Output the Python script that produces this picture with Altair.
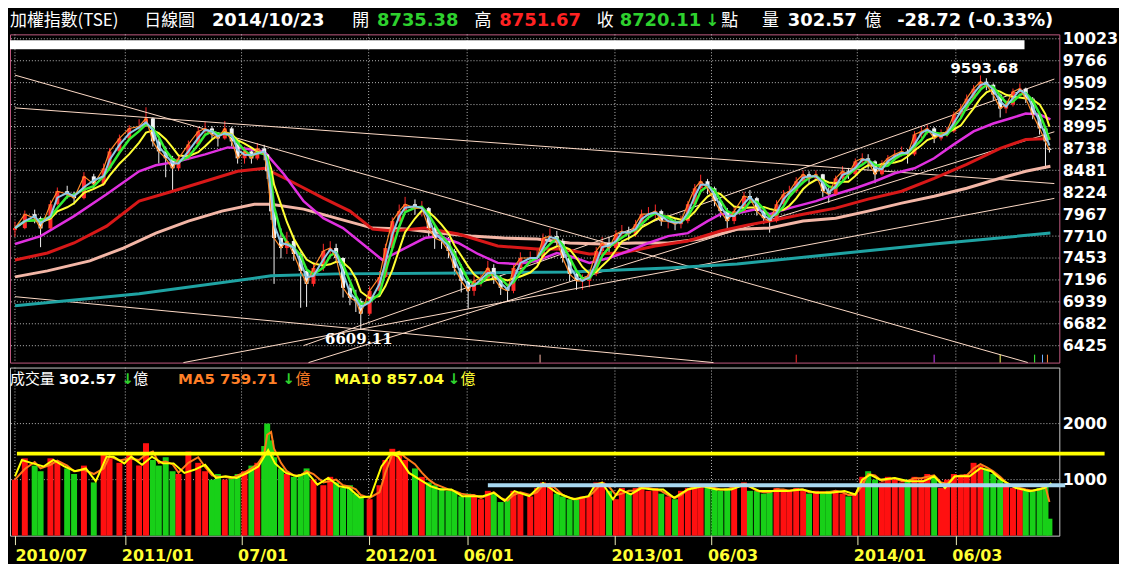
import altair as alt
import pandas as pd

# ---------------- data ----------------
tick_days = [0, 112, 230, 359, 459, 609, 707, 855, 955]
tick_labels = ["2010/07", "2011/01", "07/01", "2012/01", "06/01", "2013/01", "06/03", "2014/01", "06/03"]
price_ticks = [6425, 6682, 6939, 7196, 7453, 7710, 7967, 8224, 8481, 8738, 8995, 9252, 9509, 9766, 10023]
vol_ticks = [1000, 2000]

days = [0, 10, 20, 26, 36, 43, 53, 60, 70, 80,
        90, 96, 106, 116, 126, 133, 140, 146, 153, 160,
        166, 176, 186, 193, 200, 206, 213, 220, 226, 233,
        240, 246, 253, 256, 260, 263, 270, 276, 283, 290,
        296, 303, 313, 320, 326, 333, 340, 346, 351, 360,
        370, 376, 383, 390, 396, 406, 413, 420, 426, 433,
        440, 446, 453, 460, 466, 473, 480, 486, 493, 500,
        506, 513, 523, 530, 536, 543, 550, 556, 563, 570,
        576, 583, 590, 596, 603, 610, 616, 623, 630, 636,
        643, 650, 656, 663, 670, 676, 683, 690, 696, 703,
        710, 716, 723, 730, 740, 746, 753, 760, 766, 773,
        780, 786, 793, 800, 806, 813, 820, 826, 833, 840,
        846, 853, 860, 866, 873, 880, 886, 893, 900, 906,
        913, 920, 926, 933, 940, 946, 953, 960, 966, 973,
        980, 986, 993, 1000, 1006, 1013, 1020, 1026, 1033, 1040,
        1046, 1050]
close = [7804, 7967, 7920, 7800, 8084, 8236, 8200, 8155, 8410, 8318,
         8505, 8703, 8855, 8972, 8995, 9090, 8820, 8703, 8622, 8505,
         8620, 8785, 8937, 8972, 8902, 8855, 8972, 8820, 8622, 8703,
         8620, 8738, 8668, 8470, 8000, 7687, 7570, 7652, 7500, 7302,
         7150, 7337, 7535, 7570, 7453, 7103, 6986, 6950, 6800, 7068,
         7230, 7570, 7886, 8003, 8084, 8038, 8038, 7804, 7687, 7652,
         7535, 7337, 7185, 7068, 7185, 7220, 7337, 7220, 7103, 7068,
         7337, 7453, 7453, 7453, 7687, 7710, 7652, 7453, 7267, 7185,
         7185, 7267, 7535, 7629, 7570, 7734, 7769, 7734, 7850, 7967,
         7967, 8003, 7886, 7886, 7850, 7886, 8084, 8271, 8353, 8271,
         8120, 8003, 7886, 8003, 8180, 8155, 8003, 7920, 7886, 8084,
         8200, 8236, 8353, 8435, 8388, 8435, 8236, 8200, 8388, 8470,
         8435, 8586, 8622, 8586, 8435, 8551, 8622, 8668, 8703, 8668,
         8902, 8937, 8972, 8855, 8902, 8937, 9135, 9205, 9322, 9439,
         9520, 9485, 9369, 9205, 9252, 9404, 9439, 9322, 9135, 8972,
         8820, 8720.11]
high = [7880, 8010, 8020, 7940, 8130, 8280, 8300, 8230, 8460, 8440,
        8560, 8740, 8900, 9010, 9080, 9220, 9100, 8850, 8760, 8650,
        8670, 8830, 8990, 9050, 9000, 8930, 9060, 8990, 8830, 8760,
        8740, 8800, 8780, 8680, 8480, 8020, 7800, 7760, 7720, 7520,
        7350, 7400, 7620, 7650, 7620, 7460, 7150, 7080, 6980, 7120,
        7300, 7620, 7930, 8080, 8170, 8140, 8120, 8050, 7830, 7760,
        7700, 7560, 7380, 7220, 7250, 7300, 7420, 7380, 7250, 7150,
        7380, 7520, 7530, 7560, 7740, 7800, 7770, 7680, 7480, 7300,
        7260, 7320, 7580, 7700, 7700, 7780, 7840, 7820, 7900, 8020,
        8050, 8080, 8020, 7950, 7920, 7950, 8120, 8320, 8430, 8380,
        8290, 8150, 8040, 8060, 8230, 8250, 8170, 8050, 7980, 8130,
        8250, 8300, 8400, 8480, 8470, 8480, 8440, 8280, 8420, 8530,
        8510, 8620, 8680, 8670, 8600, 8600, 8660, 8720, 8760, 8730,
        8940, 8990, 9020, 8990, 8960, 8990, 9170, 9260, 9370, 9480,
        9594, 9560, 9500, 9380, 9300, 9440, 9500, 9450, 9340, 9150,
        8990, 8751.67]
low = [7700, 7790, 7860, 7580, 7790, 8070, 8150, 8080, 8140, 8270,
       8300, 8490, 8690, 8840, 8930, 8990, 8760, 8560, 8400, 8250,
       8480, 8600, 8770, 8900, 8850, 8760, 8840, 8760, 8560, 8560,
       8560, 8600, 8600, 8380, 7900, 7150, 7450, 7500, 7420, 6870,
       6880, 7120, 7300, 7480, 7400, 6990, 6900, 6820, 6609, 6780,
       7040, 7220, 7560, 7870, 7980, 7960, 7940, 7700, 7560, 7560,
       7450, 7250, 7050, 6860, 7010, 7120, 7200, 7150, 7020, 6945,
       7040, 7300, 7380, 7380, 7430, 7640, 7600, 7400, 7180, 7080,
       7080, 7110, 7240, 7500, 7520, 7550, 7700, 7660, 7700, 7830,
       7900, 7920, 7830, 7800, 7780, 7800, 7860, 8060, 8240, 8200,
       8060, 7930, 7780, 7850, 7980, 8100, 7950, 7850, 7750, 7870,
       8060, 8150, 8220, 8330, 8320, 8360, 8170, 8100, 8180, 8370,
       8380, 8420, 8560, 8500, 8330, 8420, 8530, 8590, 8640, 8560,
       8650, 8860, 8900, 8800, 8830, 8870, 8920, 9100, 9190, 9300,
       9420, 9420, 9300, 9100, 9150, 9230, 9380, 9270, 9080, 8900,
       8500, 8690]
vol = [1000, 1380, 1250, 1150, 1380, 1300, 1200, 1100, 1250, 950,
       1450, 1380, 1300, 1450, 1250, 1650, 1350, 1250, 1400, 1150,
       1100, 1500, 1300, 1150, 1000, 1100, 1000, 1050, 1100, 1150,
       1250, 1300, 1600, 2000, 1700, 1400, 1200, 1100, 1050, 1100,
       1200, 1000, 900, 1050, 950, 850, 900, 750, 700, 650,
       900, 1350, 1550, 1450, 1350, 1200, 1050, 950, 900, 850,
       800, 800, 700, 750, 700, 650, 800, 750, 600, 650,
       800, 750, 700, 850, 950, 900, 750, 700, 650, 650,
       700, 700, 950, 950, 800, 650, 850, 750, 850, 900,
       800, 850, 750, 700, 650, 800, 850, 900, 900, 850,
       850, 800, 850, 900, 950, 800, 800, 750, 800, 850,
       800, 800, 850, 800, 750, 800, 750, 800, 800, 750,
       700, 750, 1050, 1150, 1000, 950, 1050, 1000, 950, 1000,
       1050, 1000, 1100, 1050, 850, 1000, 1100, 1050, 1100, 1300,
       1250, 1200, 1100, 1000, 900, 850, 850, 800, 800, 850,
       900, 302.57]
first_open = 7780
last_open = 8735.38

# moving averages
mag_d = [0, 26, 60, 93, 126, 143, 166, 193, 216, 233, 253, 273, 293, 313, 333, 353, 373, 396, 416, 430,
         450, 470, 490, 510, 530, 550, 563, 583, 603, 623, 643, 663, 683, 703, 716, 733, 753, 766, 786, 813,
         833, 853, 873, 893, 913, 933, 953, 973, 993, 1010, 1026, 1040, 1051]
mag_v = [7617, 7710, 7944, 8200, 8470, 8540, 8586, 8668, 8750, 8738, 8703, 8435, 8120, 7920, 7804, 7617, 7430, 7570, 7687, 7710,
         7629, 7500, 7396, 7384, 7420, 7512, 7477, 7396, 7453, 7535, 7629, 7710, 7745, 7886, 7967, 7979, 8026, 7967, 8038, 8120,
         8200, 8271, 8353, 8447, 8505, 8622, 8785, 8937, 9030, 9088, 9147, 9135, 9077]
red_d = [0, 33, 60, 93, 126, 160, 193, 226, 253, 280, 313, 340, 363, 383, 416, 450, 490, 530, 556, 583,
         616, 650, 683, 716, 743, 766, 800, 833, 866, 900, 933, 966, 1000, 1026, 1051]
red_v = [7430, 7512, 7629, 7827, 8120, 8236, 8353, 8470, 8505, 8353, 8155, 8003, 7792, 7769, 7804, 7734, 7594, 7558, 7558, 7500,
         7512, 7594, 7652, 7769, 7839, 7886, 7967, 8038, 8143, 8236, 8388, 8551, 8738, 8843, 8855]
pink_d = [0, 33, 76, 110, 143, 176, 210, 243, 260, 293, 326, 363, 396, 430, 463, 496, 530, 563, 596, 630,
          663, 696, 733, 766, 800, 833, 866, 900, 933, 966, 1000, 1026, 1051]
pink_v = [7232, 7302, 7420, 7570, 7745, 7886, 8003, 8084, 8084, 8026, 7920, 7804, 7792, 7745, 7710, 7687, 7675, 7629, 7617, 7629,
          7629, 7675, 7790, 7804, 7886, 7920, 8003, 8096, 8178, 8271, 8388, 8470, 8528]
teal_d = [0, 126, 260, 326, 463, 563, 663, 733, 833, 933, 1051]
teal_v = [6893, 7033, 7244, 7267, 7278, 7290, 7337, 7384, 7500, 7617, 7745]

vma_d = [0, 7, 18, 29, 39, 50, 61, 72, 82, 93, 100, 111, 118, 129, 139, 150, 161, 172, 182, 193,
         204, 214, 225, 236, 247, 257, 264, 275, 286, 297, 307, 318, 329, 339, 350, 361, 372, 382, 389, 400,
         411, 422, 432, 443, 454, 464, 475, 486, 497, 507, 522, 536, 550, 567, 582, 589, 596, 607, 614, 625,
         636, 647, 658, 669, 683, 698, 712, 727, 741, 756, 770, 784, 799, 813, 828, 842, 853, 860, 868, 878,
         893, 907, 922, 933, 944, 954, 969, 980, 991, 1001, 1016, 1030, 1045, 1052]
vma_v = [1060, 1350, 1290, 1235, 1350, 1235, 1150, 1200, 970, 1410, 1410, 1290, 1410, 1265, 1410, 1290, 1290, 1120, 1175, 1265,
         1030, 1060, 1030, 1120, 1235, 1530, 1290, 1120, 1060, 1120, 910, 1030, 880, 850, 680, 700, 1235, 1470, 1410, 1120,
         1000, 880, 825, 825, 705, 705, 705, 765, 620, 795, 705, 940, 765, 650, 705, 910, 940, 650, 825, 735,
         850, 825, 825, 675, 825, 880, 825, 825, 910, 795, 795, 795, 825, 765, 765, 795, 735, 1000, 1090, 1000,
         1030, 970, 970, 1060, 850, 1060, 1060, 1205, 1150, 1000, 850, 795, 850, 940]

# drawn trend lines (start day, start value, end day, end value)
tl_d1 = [0, 0, 0, 171, 293, 298]
tl_v1 = [9597, 9213, 7000, 6227, 6426, 6227]
tl_d2 = [1028, 1055, 709, 1055, 1055, 1055]
tl_v2 = [6228, 8326, 6227, 8152, 9551, 8933]

# horizontal reference lines on volume panel
ref_d1 = [2, 480]
ref_d2 = [1106, 1066]
ref_v = [1464, 900]
ref_c = ["#ffff00", "#a8d8f0"]

# event markers at bottom of price panel
mk_d = [533, 793, 933, 1000, 1035, 1043, 1048]
mk_lo = [6227] * 7
mk_hi = [6320] * 7
mk_c = ["#ffb8a8", "#ff3030", "#d040ff", "#ffff60", "#40ff40", "#70b0ff", "#ff9040"]

lab_d = [984, 349]
lab_v = [9680, 6508]
lab_t = ["9593.68", "6609.11"]
lab_f = ["sans", "serif"]

# ---------------- frames ----------------
opens = [first_open] + close[:-1]
opens[-1] = last_open
df = pd.DataFrame({"day": days, "open": opens, "close": close, "high": high, "low": low, "vol": vol})
df["up"] = df["close"] >= df["open"]

mag = pd.DataFrame({"day": mag_d, "v": mag_v})
red = pd.DataFrame({"day": red_d, "v": red_v})
pink = pd.DataFrame({"day": pink_d, "v": pink_v})
teal = pd.DataFrame({"day": teal_d, "v": teal_v})
vma = pd.DataFrame({"day": vma_d, "v": vma_v})
tl = pd.DataFrame({"d1": tl_d1, "v1": tl_v1, "d2": tl_d2, "v2": tl_v2})
refs = pd.DataFrame({"d1": ref_d1, "d2": ref_d2, "v": ref_v, "c": ref_c})
mk = pd.DataFrame({"d": mk_d, "lo": mk_lo, "hi": mk_hi, "c": mk_c})
labs = pd.DataFrame({"d": lab_d, "v": lab_v, "t": lab_t, "f": lab_f})
xgrid = pd.DataFrame({"d": tick_days})
ygrid = pd.DataFrame({"v": price_ticks})
vgrid = pd.DataFrame({"v": vol_ticks})
one = pd.DataFrame({"a": [0]})

xs = alt.Scale(domain=[0, 1055], nice=False, zero=False)
ys = alt.Scale(domain=[6227, 10075], nice=False, zero=False)
vs = alt.Scale(domain=[0, 3000], nice=False)

GRID = "#b8b8b8"
NUMFONT = "DejaVu Sans"
CJK = "Noto Sans CJK TC"
UP, DOWN = "#ff2a2a", "#f2f2f2"
updown = alt.condition("datum.up", alt.value(UP), alt.value(DOWN))

label_expr = " : ".join(
    f"datum.value == {d} ? '{t}'" for d, t in zip(tick_days, tick_labels)
) + " : ''"

x_axis_price = alt.Axis(values=tick_days, grid=False, labels=False, ticks=False, domain=False, title=None)
y_axis_price = alt.Axis(orient="right", values=price_ticks, format="d", grid=False,
                        labelColor="white", labelFont=NUMFONT, labelFontWeight="bold",
                        labelFontSize=16, labelPadding=3, ticks=False, domain=False, title=None,
                        labelOverlap=False)
x_axis_vol = alt.Axis(values=tick_days, labelExpr=label_expr, labelAlign="left",
                      labelOffset={"condition": {"test": "datum.value == 0", "value": 0}, "value": -4},
                      labelColor="#ffff33", labelFont=NUMFONT, labelFontSize=16, labelFontWeight="bold",
                      labelPadding=3, tickSize=9, tickColor="#eeeebb", domain=False,
                      grid=False, title=None, labelFlush=False, labelOverlap=False, labelBaseline="top")
y_axis_vol = alt.Axis(orient="right", values=vol_ticks, format="d", grid=False,
                      labelColor="white", labelFont=NUMFONT, labelFontWeight="bold",
                      labelFontSize=16, labelPadding=3, ticks=False, domain=False, title=None)


def PX(f):
    return alt.X(f, scale=xs, axis=x_axis_price)


def PY(f):
    return alt.Y(f, scale=ys, axis=y_axis_price)


def VX(f):
    return alt.X(f, scale=xs, axis=x_axis_vol)


def VY(f):
    return alt.Y(f, scale=vs, axis=y_axis_vol)


def txt(s, x, y, color, size, bold=True, font=NUMFONT):
    return alt.Chart(one).mark_text(
        text=s, align="left", baseline="middle", color=color, fontSize=size,
        fontWeight="bold" if bold else "normal", font=font
    ).encode(x=alt.value(x), y=alt.value(y))


# ---------------- price panel ----------------
p_xgrid = alt.Chart(xgrid).mark_rule(color=GRID, strokeWidth=1, strokeDash=[1, 2]).encode(x=PX("d:Q"))
p_ygrid = alt.Chart(ygrid).mark_rule(color=GRID, strokeWidth=1, strokeDash=[1, 2]).encode(y=PY("v:Q"))

wicks = alt.Chart(df).mark_rule(strokeWidth=1).encode(x=PX("day:Q"), y=PY("low:Q"), y2="high", color=updown)
bodies = alt.Chart(df).mark_bar(size=4).encode(x=PX("day:Q"), y=PY("open:Q"), y2="close", color=updown)

trend = alt.Chart(tl).mark_rule(color="#ffdcc8", strokeWidth=1).encode(
    x=PX("d1:Q"), y=PY("v1:Q"), x2="d2", y2="v2")


def ma_line(data, color, w):
    return alt.Chart(data).mark_line(color=color, strokeWidth=w).encode(x=PX("day:Q"), y=PY("v:Q"))


srt = [alt.SortField("day")]
short = alt.Chart(df).transform_window(
    blue="mean(close)", frame=[-1, 0], sort=srt
).transform_window(
    green="mean(close)", frame=[-2, 0], sort=srt
).transform_window(
    yellow="mean(close)", frame=[-4, 0], sort=srt
)
yellow_l = short.mark_line(color="#ffff33", strokeWidth=2).encode(x=PX("day:Q"), y=PY("yellow:Q"))
green_l = short.mark_line(color="#33ee33", strokeWidth=2.5).encode(x=PX("day:Q"), y=PY("green:Q"))
orange_l = short.mark_line(color="#ff8a2a", strokeWidth=1.2).encode(x=PX("day:Q"), y=PY("close:Q"))
blue_l = short.mark_line(color="#90c8e8", strokeWidth=2).encode(x=PX("day:Q"), y=PY("blue:Q"))

markers = alt.Chart(mk).mark_rule(strokeWidth=1).encode(
    x=PX("d:Q"), y=PY("lo:Q"), y2="hi", color=alt.Color("c:N", scale=None))

lab_sans = alt.Chart(labs).transform_filter("datum.f == 'sans'").mark_text(
    color="white", fontSize=15, fontWeight="bold", font="DejaVu Sans", align="center", baseline="middle"
).encode(x=PX("d:Q"), y=PY("v:Q"), text="t:N")
lab_serif = alt.Chart(labs).transform_filter("datum.f == 'serif'").mark_text(
    color="white", fontSize=15, fontWeight="bold", font="DejaVu Serif", align="center", baseline="middle"
).encode(x=PX("d:Q"), y=PY("v:Q"), text="t:N")

white_bar = alt.Chart(one).mark_rect(color="white").encode(
    x=alt.value(0), x2=alt.value(1020), y=alt.value(6), y2=alt.value(15))

HY = -13
header = [
    txt("加權指數(TSE)", 0, HY, "white", 17, bold=False, font=CJK),
    txt("日線圖", 135, HY, "white", 17, bold=False, font=CJK),
    txt("2014/10/23", 203, HY, "white", 18),
    txt("開", 344, HY, "white", 17, bold=False, font=CJK),
    txt("8735.38", 369, HY, "#2ed12e", 18),
    txt("高", 467, HY, "white", 17, bold=False, font=CJK),
    txt("8751.67", 492, HY, "#ff2222", 18),
    txt("收", 590, HY, "white", 17, bold=False, font=CJK),
    txt("8720.11", 613, HY, "#2ed12e", 18),
    txt("↓", 699, HY, "#2ed12e", 17),
    txt("點", 715, HY, "white", 17, bold=False, font=CJK),
    txt("量", 756, HY, "white", 17, bold=False, font=CJK),
    txt("302.57", 782, HY, "white", 18),
    txt("億", 859, HY, "white", 17, bold=False, font=CJK),
    txt("-28.72 (-0.33%)", 892, HY, "white", 18),
]

price = alt.layer(
    p_xgrid, p_ygrid, wicks, trend,
    ma_line(teal, "#1fa3a3", 3), ma_line(pink, "#f3b6a6", 3), ma_line(red, "#d81818", 3),
    ma_line(mag, "#e030e0", 2.5),
    bodies, yellow_l, green_l, orange_l, blue_l,
    markers, lab_sans, lab_serif, white_bar, *header
).properties(width=1055, height=330, view=alt.ViewBackground(stroke="#c05a80", strokeWidth=1))

# ---------------- volume panel ----------------
v_xgrid = alt.Chart(xgrid).mark_rule(color=GRID, strokeWidth=1, strokeDash=[1, 2]).encode(x=VX("d:Q"))
v_ygrid = alt.Chart(vgrid).mark_rule(color=GRID, strokeWidth=1, strokeDash=[1, 2]).encode(y=VY("v:Q"))
vbars = alt.Chart(df).mark_bar(size=6).encode(
    x=VX("day:Q"), y=VY("vol:Q"),
    color=alt.condition("datum.up", alt.value("#ff1010"), alt.value("#18d018")))
vma5 = alt.Chart(df).transform_window(m5="mean(vol)", frame=[-1, 0], sort=srt).mark_line(
    color="#ff7a1a", strokeWidth=2).encode(x=VX("day:Q"), y=VY("m5:Q"))
vma10 = alt.Chart(vma).mark_line(color="#ffff00", strokeWidth=2).encode(x=VX("day:Q"), y=VY("v:Q"))
vrefs = alt.Chart(refs).mark_rule(strokeWidth=4).encode(
    x=VX("d1:Q"), x2="d2", y=VY("v:Q"), color=alt.Color("c:N", scale=None))

VTY = 12
vheader = [
    txt("成交量", 0, VTY, "white", 15, bold=False, font=CJK),
    txt("302.57", 49, VTY, "white", 15),
    txt("↓", 112, VTY, "#2ed12e", 15),
    txt("億", 124, VTY, "white", 15, bold=False, font=CJK),
    txt("MA5 759.71", 169, VTY, "#ff7f27", 15),
    txt("↓", 274, VTY, "#2ed12e", 15),
    txt("億", 287, VTY, "#ff7f27", 15, bold=False, font=CJK),
    txt("MA10 857.04", 326, VTY, "#ffff33", 15),
    txt("↓", 440, VTY, "#2ed12e", 15),
    txt("億", 453, VTY, "#ffff33", 15, bold=False, font=CJK),
]

volume = alt.layer(v_xgrid, v_ygrid, vbars, vma5, vma10, vrefs, *vheader).properties(
    width=1055, height=169, view=alt.ViewBackground(stroke="#c8c8c8", strokeWidth=1))

chart = alt.vconcat(price, volume, spacing=3).properties(
    padding={"top": 2, "left": 0, "right": 0, "bottom": 0}
).configure(background="#000000")

chart.save("out.html", embed_options={"renderer": "svg", "actions": False})
